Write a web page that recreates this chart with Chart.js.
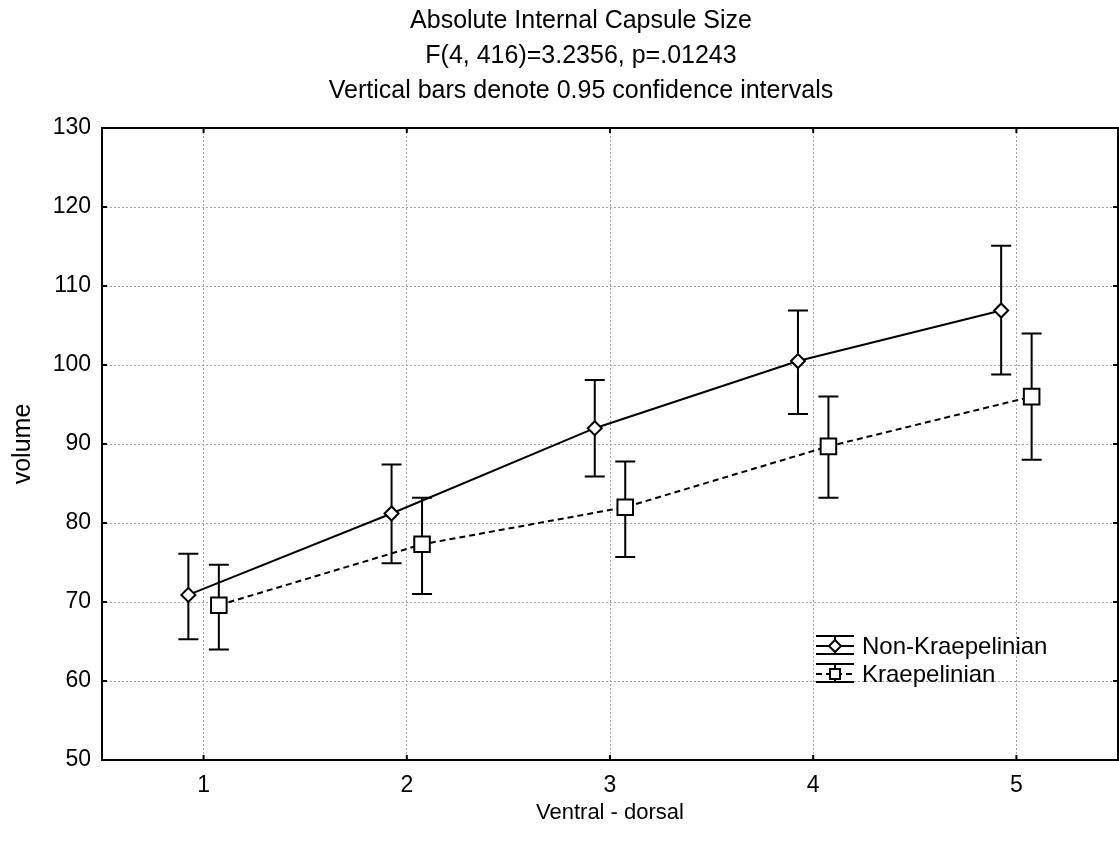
<!DOCTYPE html>
<html>
<head>
<meta charset="utf-8">
<script src="https://cdn.jsdelivr.net/npm/chart.js@4/dist/chart.umd.min.js"></script>
<style>
  html, body { margin: 0; padding: 0; background: #fff; }
</style>
</head>
<body>
<canvas id="chart" width="1119" height="844"></canvas>
<script>
const titleLines = [
    'Absolute Internal Capsule Size',
    'F(4, 416)=3.2356, p=.01243',
    'Vertical bars denote 0.95 confidence intervals'
];
const positions = [1, 2, 3, 4, 5];
const seriesNames = ['Non-Kraepelinian', 'Kraepelinian'];

const nonKMean = [70.9, 81.2, 92.0, 100.5, 106.9];
const nonKLower = [65.3, 74.9, 85.9, 93.8, 98.8];
const nonKUpper = [76.1, 87.4, 98.1, 106.9, 115.1];

const kMean = [69.6, 77.3, 82.0, 89.7, 96.0];
const kLower = [64.0, 71.0, 75.7, 83.2, 88.0];
const kUpper = [74.7, 83.2, 87.8, 96.0, 104.0];

const yTicks = [50, 60, 70, 80, 90, 100, 110, 120, 130];

const FONT = '"Liberation Sans", Arial, sans-serif';
const dodge = 0.075; // groups are drawn slightly apart

Chart.defaults.font.family = FONT;
Chart.defaults.color = '#000';

function toPoints(vals, shift) {
    return vals.map((v, i) => ({ x: positions[i] + shift, y: v }));
}

// vertical confidence bars, drawn under the lines and markers
const errorBars = {
    id: 'errorBars',
    beforeDatasetsDraw(chart) {
        const { ctx, scales: { x, y } } = chart;
        ctx.save();
        ctx.strokeStyle = '#000';
        ctx.lineWidth = 2;
        chart.data.datasets.forEach(ds => {
            ds.data.forEach((pt, j) => {
                const px = x.getPixelForValue(pt.x);
                const top = y.getPixelForValue(ds.upper[j]);
                const bot = y.getPixelForValue(ds.lower[j]);
                ctx.beginPath();
                ctx.moveTo(px, top); ctx.lineTo(px, bot);
                ctx.moveTo(px - 10, top); ctx.lineTo(px + 10, top);
                ctx.moveTo(px - 10, bot); ctx.lineTo(px + 10, bot);
                ctx.stroke();
            });
        });
        ctx.restore();
    }
};

// plot frame and small inward tick marks
const frame = {
    id: 'frame',
    afterDatasetsDraw(chart) {
        const { ctx, chartArea: a, scales: { x, y } } = chart;
        ctx.save();
        ctx.strokeStyle = '#000';
        ctx.lineWidth = 2;
        ctx.strokeRect(a.left, a.top, a.right - a.left, a.bottom - a.top);
        ctx.beginPath();
        positions.forEach(p => {
            const px = x.getPixelForValue(p);
            ctx.moveTo(px, a.bottom); ctx.lineTo(px, a.bottom - 5);
            ctx.moveTo(px, a.top); ctx.lineTo(px, a.top + 5);
        });
        yTicks.forEach(v => {
            const py = y.getPixelForValue(v);
            ctx.moveTo(a.left, py); ctx.lineTo(a.left + 5, py);
            ctx.moveTo(a.right, py); ctx.lineTo(a.right - 5, py);
        });
        ctx.stroke();
        ctx.restore();
    }
};

const titleBlock = {
    id: 'titleBlock',
    afterDraw(chart) {
        const ctx = chart.ctx;
        ctx.save();
        ctx.fillStyle = '#000';
        ctx.font = '25px ' + FONT;
        ctx.textAlign = 'center';
        ctx.textBaseline = 'alphabetic';
        titleLines.forEach((t, i) => ctx.fillText(t, 581, 28 + i * 35));
        ctx.restore();
    }
};

const legendBox = {
    id: 'legendBox',
    afterDraw(chart) {
        const ctx = chart.ctx;
        const x0 = 816, x1 = 854, xc = 835;
        ctx.save();
        ctx.strokeStyle = '#000';
        ctx.fillStyle = '#000';
        ctx.font = '24px ' + FONT;
        ctx.textBaseline = 'middle';
        chart.data.datasets.forEach((ds, i) => {
            const cy = 646 + i * 28;
            ctx.lineWidth = 2;
            ctx.setLineDash([]);
            ctx.beginPath();
            ctx.moveTo(x0, cy - 10); ctx.lineTo(x1, cy - 10);
            ctx.moveTo(x0, cy + 8); ctx.lineTo(x1, cy + 8);
            ctx.moveTo(xc, cy - 10); ctx.lineTo(xc, cy + 8);
            ctx.stroke();
            ctx.setLineDash(ds.borderDash || []);
            ctx.beginPath();
            ctx.moveTo(x0, cy); ctx.lineTo(x1, cy);
            ctx.stroke();
            ctx.setLineDash([]);
            ctx.fillStyle = '#fff';
            ctx.beginPath();
            if (ds.pointStyle === 'rectRot') {
                ctx.moveTo(xc, cy - 6); ctx.lineTo(xc + 6, cy);
                ctx.lineTo(xc, cy + 6); ctx.lineTo(xc - 6, cy);
                ctx.closePath();
            } else {
                ctx.rect(xc - 5, cy - 5, 10, 10);
            }
            ctx.fill();
            ctx.stroke();
            ctx.fillStyle = '#000';
            ctx.fillText(ds.label, 862, cy + 1);
        });
        ctx.restore();
    }
};

const gridStyle = {
    color: '#a0a0a0',
    lineWidth: 1,
    drawTicks: false,
    borderDash: [2, 2]
};

new Chart(document.getElementById('chart'), {
    type: 'line',
    data: {
        datasets: [
            {
                label: seriesNames[0],
                data: toPoints(nonKMean, -dodge),
                lower: nonKLower,
                upper: nonKUpper,
                borderColor: '#000',
                borderWidth: 2,
                pointStyle: 'rectRot',
                pointRadius: 7,
                pointBackgroundColor: '#fff',
                pointBorderColor: '#000',
                pointBorderWidth: 2,
                tension: 0
            },
            {
                label: seriesNames[1],
                data: toPoints(kMean, dodge),
                lower: kLower,
                upper: kUpper,
                borderColor: '#000',
                borderWidth: 2,
                borderDash: [6, 4],
                pointStyle: 'rect',
                pointRadius: 11,
                pointBackgroundColor: '#fff',
                pointBorderColor: '#000',
                pointBorderWidth: 2,
                tension: 0
            }
        ]
    },
    options: {
        responsive: false,
        animation: false,
        layout: { autoPadding: false, padding: { top: 128, right: 1, bottom: 0, left: 0 } },
        plugins: {
            legend: { display: false },
            title: { display: false },
            tooltip: { enabled: false }
        },
        scales: {
            x: {
                type: 'linear',
                min: 0.5,
                max: 5.5,
                afterBuildTicks: s => { s.ticks = positions.map(v => ({ value: v })); },
                afterFit: s => { s.height = 84; s.paddingLeft = 0; s.paddingRight = 0; },
                ticks: { font: { size: 23 }, color: '#000', padding: 12 },
                grid: gridStyle,
                border: { display: false, dash: [2, 2] },
                title: {
                    display: true,
                    text: 'Ventral - dorsal',
                    font: { size: 22 },
                    color: '#000',
                    padding: { top: 0, bottom: 18 }
                }
            },
            y: {
                min: 50,
                max: 130,
                afterBuildTicks: s => { s.ticks = yTicks.map(v => ({ value: v })); },
                afterFit: s => { s.width = 102; s.paddingTop = 0; s.paddingBottom = 0; },
                ticks: { font: { size: 23 }, color: '#000', padding: 11 },
                grid: gridStyle,
                border: { display: false, dash: [2, 2] },
                title: {
                    display: true,
                    text: 'volume',
                    font: { size: 25 },
                    color: '#000',
                    padding: { top: 8, bottom: 0 }
                }
            }
        }
    },
    plugins: [errorBars, frame, titleBlock, legendBox]
});
</script>
</body>
</html>
